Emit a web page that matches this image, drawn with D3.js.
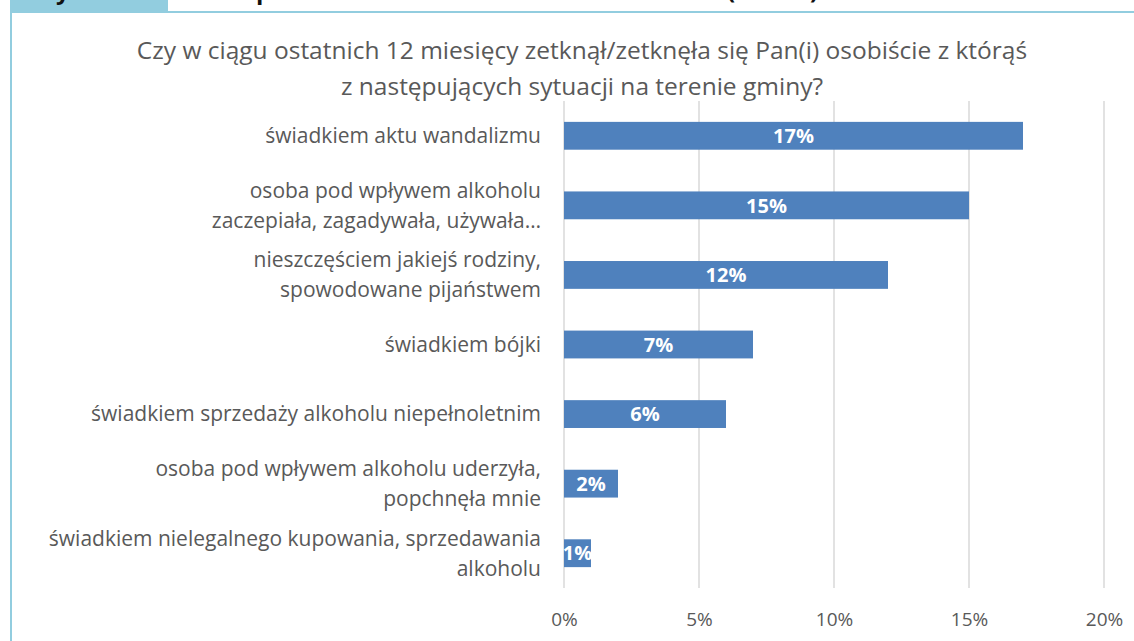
<!DOCTYPE html>
<html>
<head>
<meta charset="utf-8">
<script src="https://cdn.jsdelivr.net/npm/d3@7"></script>
<style>
  html, body { margin: 0; padding: 0; background: #fff; }
  svg { display: block; }
</style>
</head>
<body>
<div id="chart"></div>
<script>
const categories = [
  ['świadkiem aktu wandalizmu'],
  ['osoba pod wpływem alkoholu', 'zaczepiała, zagadywała, używała…'],
  ['nieszczęściem jakiejś rodziny,', 'spowodowane pijaństwem'],
  ['świadkiem bójki'],
  ['świadkiem sprzedaży alkoholu niepełnoletnim'],
  ['osoba pod wpływem alkoholu uderzyła,', 'popchnęła mnie'],
  ['świadkiem nielegalnego kupowania, sprzedawania', 'alkoholu']
];
const values = [17, 15, 12, 7, 6, 2, 1];
const ticks = [0, 5, 10, 15, 20];
const titleLines = [
  'Czy w ciągu ostatnich 12 miesięcy zetknął/zetknęła się Pan(i) osobiście z którąś',
  'z następujących sytuacji na terenie gminy?'
];

const width = 1134;
const height = 641;
const frame = '#92CDDF';
const font = '"Open Sans", "Noto Sans", sans-serif';

const svg = d3.select('#chart').append('svg')
  .attr('width', width)
  .attr('height', height);

// cut-off page frame and heading tab
svg.append('rect')
  .attr('x', 10).attr('y', 0)
  .attr('width', 158).attr('height', 12)
  .attr('fill', frame);
svg.append('path')
  .attr('d', `M${width},12 H11 V${height}`)
  .attr('fill', 'none')
  .attr('stroke', frame)
  .attr('stroke-width', 2);
[['y', 56], ['p', 256], ['(', 727], [')', 810]].forEach(([ch, x]) => {
  svg.append('text')
    .attr('x', x).attr('y', -1)
    .style('font-family', font)
    .style('font-weight', 'bold')
    .style('font-size', '24px')
    .attr('fill', '#111')
    .text(ch);
});

// title
svg.append('g').selectAll('text')
  .data(titleLines)
  .join('text')
  .attr('x', 582)
  .attr('y', (d, i) => 59 + i * 36)
  .attr('text-anchor', 'middle')
  .style('font-family', font)
  .style('font-size', '24.5px')
  .attr('fill', '#595959')
  .text(d => d);

const x = d3.scaleLinear().domain([0, 20]).range([564, 1104]);
const y = d3.scaleBand()
  .domain(d3.range(categories.length))
  .range([101, 588])
  .paddingInner(0.6)
  .paddingOuter(0.3);

// gridlines
svg.append('g').selectAll('line')
  .data(ticks)
  .join('line')
  .attr('x1', d => x(d)).attr('x2', d => x(d))
  .attr('y1', 101).attr('y2', 588)
  .attr('stroke', '#D9D9D9')
  .attr('stroke-width', 1.5);

// x axis
const xAxis = svg.append('g')
  .attr('transform', 'translate(0,588)')
  .call(d3.axisBottom(x).tickValues(ticks).tickFormat(d => d + '%').tickSize(0).tickPadding(25));
xAxis.select('.domain').remove();
xAxis.selectAll('text')
  .style('font-family', font)
  .style('font-size', '19px')
  .attr('fill', '#595959');

// bars
svg.append('g').selectAll('rect')
  .data(values)
  .join('rect')
  .attr('x', x(0))
  .attr('y', (d, i) => y(i))
  .attr('width', d => x(d) - x(0))
  .attr('height', y.bandwidth())
  .attr('fill', '#4F81BD');

// value labels
svg.append('g').selectAll('text')
  .data(values)
  .join('text')
  .attr('x', d => (x(0) + x(d)) / 2)
  .attr('y', (d, i) => y(i) + y.bandwidth() / 2)
  .attr('dy', '0.36em')
  .attr('text-anchor', 'middle')
  .style('font-family', font)
  .style('font-weight', 'bold')
  .style('font-size', '20px')
  .attr('fill', '#fff')
  .text(d => d + '%');

// category labels
const lineH = 30;
svg.append('g').selectAll('text')
  .data(categories)
  .join('text')
  .attr('text-anchor', 'end')
  .style('font-family', font)
  .style('font-size', '21px')
  .attr('fill', '#595959')
  .each(function (lines, i) {
    const cy = y(i) + y.bandwidth() / 2;
    const t0 = cy - (lines.length - 1) * lineH / 2;
    d3.select(this).selectAll('tspan')
      .data(lines)
      .join('tspan')
      .attr('x', 541)
      .attr('y', (d, j) => t0 + j * lineH)
      .attr('dy', '0.35em')
      .text(d => d);
  });
</script>
</body>
</html>
